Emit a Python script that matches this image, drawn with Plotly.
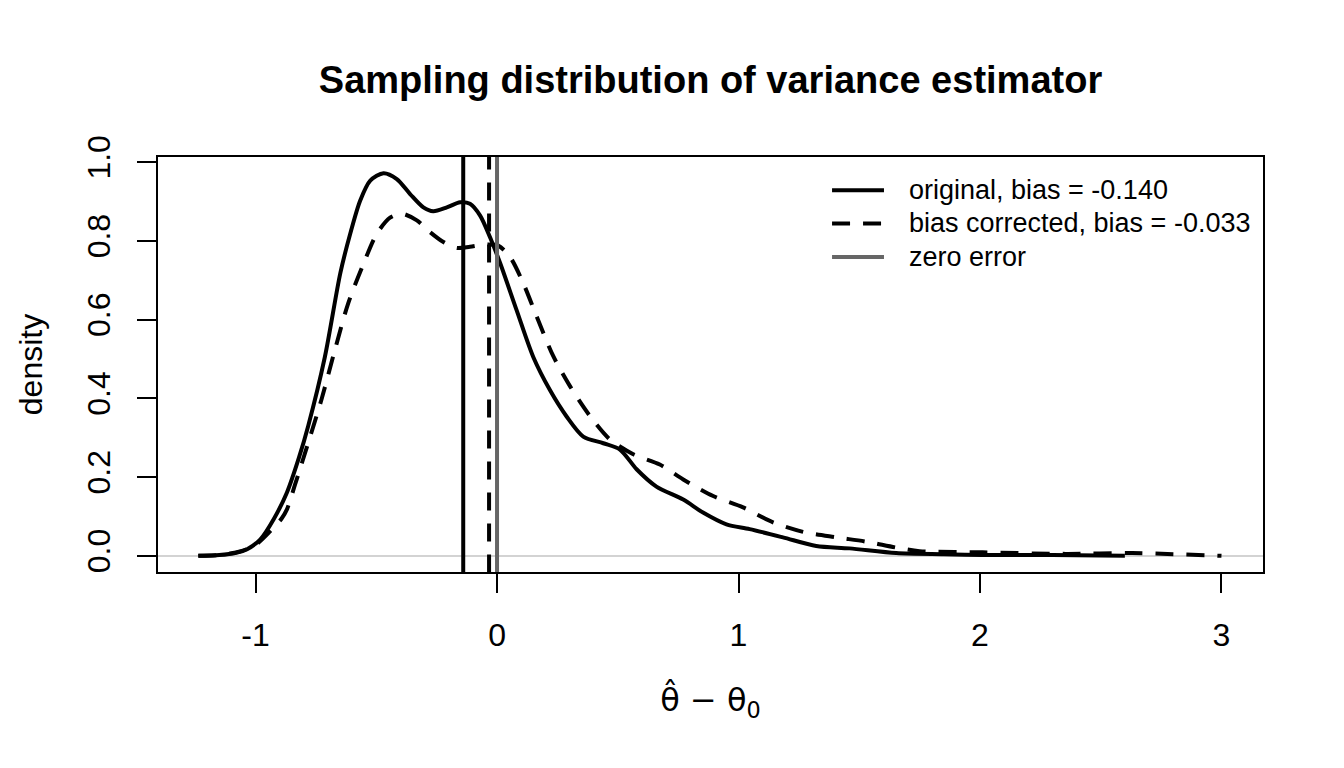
import plotly.graph_objects as go

# density of theta_hat - theta_0, original estimator
x_orig = [-1.237, -1.15, -1.08, -1.035, -0.98, -0.925, -0.87, -0.82, -0.782, -0.713,
          -0.649, -0.608, -0.567, -0.525, -0.47, -0.415, -0.36, -0.305, -0.264, -0.208,
          -0.153, -0.112, -0.07, -0.029, 0.012, 0.081, 0.15, 0.219, 0.288, 0.357,
          0.44, 0.509, 0.578, 0.66, 0.771, 0.853, 0.95, 1.046, 1.184, 1.322,
          1.46, 1.653, 1.85, 2.01, 2.3, 2.6]
y_orig = [0.0, 0.002, 0.008, 0.017, 0.042, 0.093, 0.161, 0.25, 0.33, 0.505,
          0.718, 0.818, 0.902, 0.953, 0.972, 0.957, 0.919, 0.885, 0.875, 0.885,
          0.898, 0.894, 0.864, 0.809, 0.745, 0.624, 0.505, 0.421, 0.354, 0.303,
          0.286, 0.27, 0.22, 0.176, 0.143, 0.11, 0.08, 0.068, 0.047, 0.025,
          0.019, 0.007, 0.004, 0.002, 0.002, 0.0]

# density, bias corrected estimator
x_corr = [-1.237, -1.15, -1.06, -1.0, -0.939, -0.892, -0.87, -0.837, -0.782, -0.727,
          -0.671, -0.616, -0.553, -0.498, -0.443, -0.394, -0.332, -0.277, -0.222, -0.167,
          -0.112, -0.043, 0.005, 0.054, 0.109, 0.164, 0.233, 0.302, 0.385, 0.467,
          0.564, 0.674, 0.771, 0.895, 1.019, 1.143, 1.267, 1.405, 1.529, 1.653,
          1.75, 2.011, 2.356, 2.63, 3.0]
y_corr = [0.0, 0.002, 0.012, 0.028, 0.063, 0.095, 0.118, 0.18, 0.287, 0.397,
          0.524, 0.642, 0.742, 0.818, 0.859, 0.869, 0.852, 0.822, 0.797, 0.782,
          0.785, 0.791, 0.788, 0.759, 0.692, 0.608, 0.507, 0.431, 0.355, 0.296,
          0.258, 0.232, 0.194, 0.152, 0.123, 0.085, 0.061, 0.047, 0.036, 0.021,
          0.012, 0.009, 0.005, 0.007, 0.0]

bias_orig = -0.140
bias_corr = -0.033

legend_names = ["original, bias = -0.140", "bias corrected, bias = -0.033", "zero error"]
x_ticks = [-1, 0, 1, 2, 3]
y_ticks = [0.0, 0.2, 0.4, 0.6, 0.8, 1.0]
y_ticklabels = ["0.0", "0.2", "0.4", "0.6", "0.8", "1.0"]

DASH = "18px,13px"
FONT = "Liberation Sans, Arial, sans-serif"
LW = 4

fig = go.Figure()

fig.add_trace(go.Scatter(x=x_orig, y=y_orig, mode="lines", name=legend_names[0],
                         line=dict(color="black", width=LW, shape="spline", smoothing=0.8)))
fig.add_trace(go.Scatter(x=x_corr, y=y_corr, mode="lines", name=legend_names[1],
                         line=dict(color="black", width=LW, dash=DASH, shape="spline", smoothing=0.8)))

# vertical lines at the biases and at zero (spanning past the axis range, clipped)
fig.add_trace(go.Scatter(x=[bias_orig, bias_orig], y=[-0.2, 1.2], mode="lines",
                         line=dict(color="black", width=LW)))
fig.add_trace(go.Scatter(x=[bias_corr, bias_corr], y=[-0.2, 1.2], mode="lines",
                         line=dict(color="black", width=LW, dash=DASH)))
fig.add_trace(go.Scatter(x=[0, 0], y=[-0.2, 1.2], mode="lines", name=legend_names[2],
                         line=dict(color="#666666", width=LW)))

# legend drawn R-style (no box, long line keys)
legend_styles = [("black", "solid"), ("black", DASH), ("#666666", "solid")]
legend_y = [0.920, 0.840, 0.759]
for name, (col, dash), ly in zip(legend_names, legend_styles, legend_y):
    fig.add_shape(type="line", xref="paper", yref="paper", x0=0.610, x1=0.657, y0=ly, y1=ly,
                  line=dict(color=col, width=LW, dash=dash))
    fig.add_annotation(text=name, xref="paper", yref="paper", x=0.678, y=ly,
                       xanchor="left", yanchor="middle", showarrow=False,
                       font=dict(size=27, color="black", family=FONT))

fig.update_xaxes(range=[-1.404, 3.172], tickvals=x_ticks, ticktext=[str(t) for t in x_ticks],
                 showgrid=False, zeroline=False, showline=True, mirror=True,
                 linecolor="black", linewidth=2, ticks="outside", ticklen=19, tickwidth=2,
                 tickcolor="black", ticklabelstandoff=15,
                 tickfont=dict(size=32, color="black", family=FONT),
                 title=dict(text="θ\u0302 \u2212 θ<sub>0</sub>", standoff=36,
                            font=dict(size=32, color="black", family="DejaVu Sans, sans-serif")))
fig.update_yaxes(range=[-0.041, 1.013], tickvals=y_ticks, ticktext=y_ticklabels,
                 showgrid=False, zeroline=True, zerolinecolor="#d3d3d3", zerolinewidth=1.5,
                 showline=True, mirror=True, linecolor="black", linewidth=2,
                 ticks="outside", ticklen=19, tickwidth=2, tickcolor="black",
                 tickangle=-90, ticklabelstandoff=14,
                 tickfont=dict(size=32, color="black", family=FONT),
                 title=dict(text="density", standoff=29,
                            font=dict(size=32, color="black", family=FONT)))

fig.update_layout(
    width=1344, height=768,
    margin=dict(l=150, r=89, t=149, b=204),
    paper_bgcolor="white", plot_bgcolor="white",
    title=dict(text="<b>Sampling distribution of variance estimator</b>",
               x=0.5, xref="paper", xanchor="center", y=0.906, yanchor="middle",
               font=dict(size=38, color="black", family=FONT)),
    showlegend=False,
)

fig.write_html("out.html")
